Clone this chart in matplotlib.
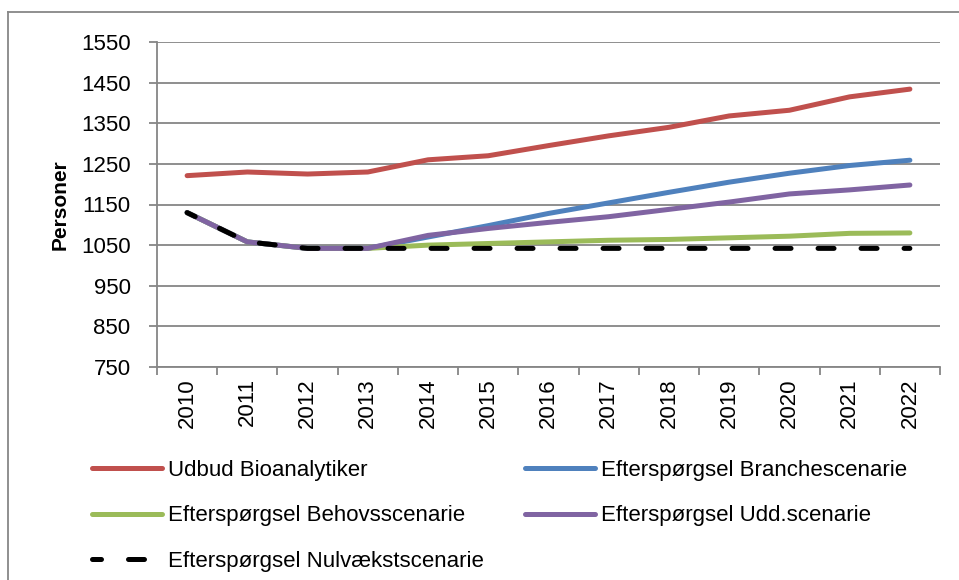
import matplotlib
matplotlib.use("Agg")
import matplotlib.pyplot as plt
from matplotlib.lines import Line2D

plt.rcParams['font.family'] = ['Liberation Sans', 'DejaVu Sans']

years = ['2010', '2011', '2012', '2013', '2014', '2015', '2016',
         '2017', '2018', '2019', '2020', '2021', '2022']

udbud = [1221, 1230, 1225, 1230, 1260, 1270, 1295, 1319, 1340, 1368, 1382, 1415, 1434]
branche = [1130, 1058, 1042, 1042, 1070, 1098, 1128, 1154, 1180, 1205, 1227, 1246, 1259]
behov = [1130, 1058, 1042, 1042, 1050, 1054, 1058, 1062, 1064, 1068, 1072, 1079, 1080]
udd = [1130, 1058, 1042, 1042, 1074, 1091, 1106, 1120, 1138, 1156, 1176, 1186, 1198]
nulvaekst = [1130, 1058, 1042, 1042, 1042, 1042, 1042, 1042, 1042, 1042, 1042, 1042, 1042]

labels = ['Udbud Bioanalytiker', 'Efterspørgsel Branchescenarie',
          'Efterspørgsel Behovsscenarie', 'Efterspørgsel Udd.scenarie',
          'Efterspørgsel Nulvækstscenarie']
colors = ['#C0504D', '#4F81BD', '#9BBB59', '#8064A2', '#000000']

yticks = [750, 850, 950, 1050, 1150, 1250, 1350, 1450, 1550]

fig = plt.figure(figsize=(9.59, 5.80), dpi=100)
ax = fig.add_axes([157 / 959, 1 - 367 / 580, 783 / 959, 325 / 580])

x = list(range(len(years)))
series = [udbud, branche, behov, udd]
handles = []
for vals, col, lab in zip(series, colors[:4], labels[:4]):
    h, = ax.plot(x, vals, color=col, linewidth=3.6, solid_capstyle='round',
                 solid_joinstyle='round', label=lab)
    handles.append(h)
h, = ax.plot(x, nulvaekst, color=colors[4], linewidth=3.6,
             linestyle=(1.4, (3.2, 5.4)), dash_capstyle='round', label=labels[4])
handles.append(h)

ax.set_xlim(-0.5, len(years) - 0.5)
ax.set_ylim(750, 1550)
ax.set_yticks(yticks)
ax.set_yticklabels([str(v) for v in yticks], fontsize=16)
ax.set_xticks(x)
ax.set_xticklabels(years, rotation=90, fontsize=16)
ax.set_xticks([i - 0.5 for i in range(len(years) + 1)], minor=True)
ax.tick_params(axis='x', which='major', length=0, pad=8)
ax.tick_params(axis='x', which='minor', length=6, width=1.3, color='#868686', direction='out')
ax.tick_params(axis='y', length=6, width=1.3, color='#868686', direction='out', pad=13)

ax.grid(axis='y', color='#868686', linewidth=1.3)
ax.set_axisbelow(True)
for side in ['top', 'right']:
    ax.spines[side].set_visible(False)
for side in ['left', 'bottom']:
    ax.spines[side].set_color('#868686')
    ax.spines[side].set_linewidth(1.3)

ax.set_ylabel('Personer', fontsize=15, fontweight='bold', labelpad=8)

# legend in two columns, placed as in the original
leg_kw = dict(loc='upper left', frameon=False, fontsize=16, handlelength=3.15,
              handletextpad=0.27, labelspacing=1.1, borderpad=0, borderaxespad=0)
leg1 = fig.legend([handles[0], handles[2], handles[4]], [labels[0], labels[2], labels[4]],
                  bbox_to_anchor=(92 / 959, 1 - 460 / 580), **leg_kw)
leg2 = fig.legend([handles[1], handles[3]], [labels[1], labels[3]],
                  bbox_to_anchor=(525 / 959, 1 - 460 / 580), **leg_kw)

# chart area border (partially cropped)
fig.add_artist(Line2D([8 / 959, 8 / 959], [0, 1 - 12 / 580], color='#878787',
                      linewidth=1.3, transform=fig.transFigure))
fig.add_artist(Line2D([8 / 959, 1], [1 - 12 / 580, 1 - 12 / 580], color='#878787',
                      linewidth=1.3, transform=fig.transFigure))

fig.savefig('out.png', dpi=100)
